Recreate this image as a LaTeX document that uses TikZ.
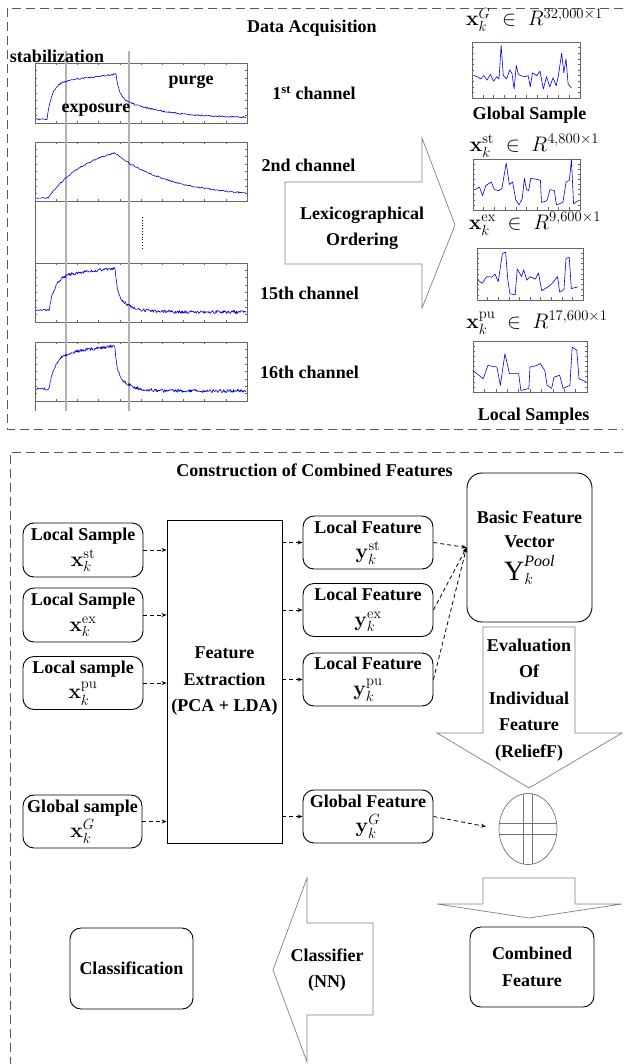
\documentclass[tikz,border=0pt]{standalone}
\usepackage{fix-cm}
\usepackage{amsmath}
\usepackage[no-math]{fontspec}
\setmainfont{Liberation Serif}
\usetikzlibrary{arrows.meta,shapes.geometric}
\newcommand{\pfr}[2]{%
  \draw[frame] (35,#1) rectangle (247,#2);
  \foreach \i in {1,...,9} \draw[frame] ({35+\i*21.2},#2) -- ++(0,-2) ({35+\i*21.2},#1) -- ++(0,2);
  \foreach \j in {1,...,7} \draw[frame] (35,{#1+\j*(#2-#1)/8}) -- ++(2,0) (247,{#1+\j*(#2-#1)/8}) -- ++(-2,0);
}
\newcommand{\sfr}{%
  \draw[frame] (0,0) rectangle (1,1);
  \foreach \t in {0.1,0.2,...,0.91} \draw[frame] (\t,1) -- (\t,0.95) (0,\t) -- (0.02,\t) (1,\t) -- (0.98,\t);
}
\newcommand{\bm}[1]{{\fontsize{21}{22}\selectfont$#1$}}
\tikzset{
  lbl/.style={font=\fontsize{18}{26.5}\selectfont\bfseries, align=center, inner sep=0pt},
  mth/.style={font=\fontsize{21}{24}\selectfont, inner sep=0pt},
  rbox/.style={lbl, draw, line width=0.9pt, rounded corners=11pt},
  frame/.style={draw=black!60, line width=0.5pt},
  sig/.style={draw=blue!90!black, line width=0.6pt, line join=round},
  marker/.style={draw=black!30, line width=1.3pt},
  barrow/.style={draw=black!50, line width=0.7pt, line join=miter},
  darr/.style={dash pattern=on 4pt off 3pt, line width=0.8pt, -{Stealth[length=5pt,width=4pt]}},
  region/.style={draw=black!65, line width=0.9pt, dash pattern=on 9pt off 5pt},
}
\begin{document}
\begin{tikzpicture}[x=1pt,y=-1pt]
\useasboundingbox (0,0) rectangle (623,1064);
\pgfmathsetseed{7}
% ---------- region boxes
\draw[region] (623,8) -- (7,8) -- (7,429) -- (623,429);
\draw[region] (623,452) -- (10,452) -- (10,1064);
% ---------- channel plots
\pfr{63}{123}
\pfr{142}{201}
\pfr{263}{322}
\pfr{342}{401}
\draw[frame] (35,201) -- (35,263) (35,401) -- (35,411);
\draw[marker] (66,51) -- (66,411);
\draw[marker] (129,51) -- (129,411);
\draw[dotted, line width=0.8pt] (142,217) -- (142,248);
\draw[sig] plot[domain=36:47,samples=15] (\x,{119+0.6*rand})
  -- plot[domain=47:115,samples=90] (\x,{119-36*(1-exp(-(\x-47)/5))-0.13*(\x-47)+0.7*rand})
  -- plot[domain=116:246,samples=150] (\x,{118-22*exp(-(\x-116)/40)-22*exp(-(\x-116)/3)+0.7*rand});
\draw[sig] plot[domain=36:48,samples=12] (\x,{198+0.6*rand})
  -- plot[domain=48:115,samples=80] (\x,{198-45*(1-exp(-(\x-48)/40))/0.8127+0.7*rand})
  -- plot[domain=115:246,samples=140] (\x,{197-44*exp(-(\x-115)/55)+0.7*rand});
\draw[sig] plot[domain=36:49,samples=15] (\x,{310+1.2*rand})
  -- plot[domain=49:114,samples=110] (\x,{310-34*(1-exp(-(\x-49)/6))-0.12*(\x-49)+1.5*rand})
  -- plot[domain=115:246,samples=220] (\x,{312-20*exp(-(\x-115)/12)-24*exp(-(\x-115)/2)+1.6*rand});
\draw[sig] plot[domain=36:49,samples=15] (\x,{389+1.2*rand})
  -- plot[domain=49:114,samples=110] (\x,{389-34*(1-exp(-(\x-49)/6))-0.14*(\x-49)+1.5*rand})
  -- plot[domain=115:246,samples=220] (\x,{391-20*exp(-(\x-115)/12)-24*exp(-(\x-115)/2)+1.6*rand});
% ---------- top labels
\node[lbl] (title1) at (312,28) {Data Acquisition};
\node[lbl] (stab) at (57,56) {stabilization};
\node[lbl] (expo) at (96,110) {exposure};
\node[lbl] (purge) at (191,82) {purge};
\node[lbl] (ch1) at (314,93) {1\textsuperscript{st} channel};
\node[lbl] (ch2) at (308.5,165) {2nd channel};
\node[lbl] (ch15) at (309.5,293) {15th channel};
\node[lbl] (ch16) at (309.5,372) {16th channel};
% ---------- lexicographical arrow
\draw[barrow] (285,182) -- (422,182) -- (422,138) -- (455,225) -- (422,308) -- (422,264) -- (285,264) -- cycle;
\node[lbl] (lex) at (362,228) {Lexicographical\\Ordering};
% ---------- right samples
\node[mth] (xg) at (534.5,20) {$\mathbf{x}_k^{G}\;\in\;R^{32{,}000\times1}$};
\begin{scope}[shift={(472,42)}, x=108pt, y=-56pt]
  \sfr
  \draw[sig] plot coordinates {(0.02,0.6) (0.05,0.62) (0.08,0.66) (0.11,0.6) (0.14,0.68) (0.17,0.58) (0.2,0.7) (0.23,0.62) (0.25,0.66) (0.27,0.06) (0.29,0.6) (0.32,0.66) (0.35,0.5) (0.37,0.56) (0.39,0.84) (0.41,0.42) (0.43,0.58) (0.45,0.6) (0.49,0.62) (0.52,0.6) (0.54,0.8) (0.56,0.55) (0.6,0.6) (0.63,0.52) (0.66,0.84) (0.69,0.62) (0.72,0.8) (0.75,0.64) (0.78,0.78) (0.8,0.6) (0.83,0.2) (0.85,0.55) (0.87,0.3) (0.89,0.75) (0.92,0.82)};
\end{scope}
\node[lbl] (gs) at (529.5,115) {Global Sample};
\node[mth] (xst) at (534.5,146) {$\mathbf{x}_k^{\mathrm{st}}\;\in\;R^{4{,}800\times1}$};
\begin{scope}[shift={(473,159)}, x=107pt, y=-51pt]
  \sfr
  \draw[sig] plot coordinates {(0.02,0.6) (0.06,0.55) (0.09,0.72) (0.12,0.52) (0.17,0.45) (0.2,0.6) (0.24,0.62) (0.27,0.58) (0.31,0.08) (0.34,0.5) (0.37,0.45) (0.4,0.8) (0.43,0.9) (0.46,0.78) (0.48,0.38) (0.5,0.6) (0.52,0.62) (0.54,0.38) (0.6,0.4) (0.63,0.42) (0.64,0.85) (0.69,0.82) (0.72,0.6) (0.76,0.62) (0.78,0.9) (0.84,0.85) (0.87,0.45) (0.9,0.42) (0.92,0.02) (0.94,0.88) (0.98,0.82)};
\end{scope}
\node[mth] (xex) at (535,224) {$\mathbf{x}_k^{\mathrm{ex}}\;\in\;R^{9{,}600\times1}$};
\begin{scope}[shift={(477,248)}, x=106pt, y=-52pt]
  \sfr
  \draw[sig] plot coordinates {(0.01,0.62) (0.05,0.68) (0.09,0.55) (0.14,0.56) (0.17,0.5) (0.2,0.65) (0.24,0.1) (0.27,0.08) (0.29,0.6) (0.31,0.88) (0.36,0.9) (0.38,0.4) (0.42,0.55) (0.44,0.42) (0.47,0.62) (0.5,0.55) (0.55,0.6) (0.58,0.48) (0.61,0.82) (0.66,0.76) (0.7,0.7) (0.74,0.6) (0.76,0.55) (0.78,0.85) (0.82,0.8) (0.84,0.2) (0.87,0.18) (0.89,0.78) (0.95,0.75)};
\end{scope}
\node[mth] (xpu) at (537,323) {$\mathbf{x}_k^{\mathrm{pu}}\;\in\;R^{17{,}600\times1}$};
\begin{scope}[shift={(473,341)}, x=114pt, y=-51pt]
  \sfr
  \draw[sig] plot coordinates {(0,0.58) (0.09,0.74) (0.13,0.48) (0.21,0.51) (0.24,0.87) (0.28,0.25) (0.32,0.64) (0.4,0.64) (0.42,0.97) (0.49,0.93) (0.5,0.51) (0.56,0.48) (0.59,0.44) (0.63,0.58) (0.65,0.87) (0.69,0.93) (0.71,0.71) (0.76,0.67) (0.79,0.93) (0.85,0.87) (0.87,0.12) (0.91,0.18) (0.93,0.74) (0.99,0.8)};
\end{scope}
\node[lbl] (lsm) at (533.5,416) {Local Samples};
% ---------- bottom section
\node[lbl] (title2) at (314.5,470) {Construction of Combined Features};
\node[rbox, minimum width=120pt, minimum height=54pt] (ls1) at (83,550) {Local Sample\\[-1pt]\bm{\mathbf{x}_k^{\mathrm{st}}}};
\node[rbox, minimum width=120pt, minimum height=54pt] (ls2) at (83,615) {Local Sample\\[-1pt]\bm{\mathbf{x}_k^{\mathrm{ex}}}};
\node[rbox, minimum width=120pt, minimum height=53pt] (ls3) at (83,683) {Local sample\\[-1pt]\bm{\mathbf{x}_k^{\mathrm{pu}}}};
\node[rbox, minimum width=119pt, minimum height=53pt] (gsm) at (82.5,821.5) {Global sample\\[-1pt]\bm{\mathbf{x}_k^{G}}};
\node[lbl, draw, line width=0.9pt, minimum width=115pt, minimum height=323pt] (fe) at (224.5,681.5) {Feature\\Extraction\\(PCA + LDA)};
\node[rbox, minimum width=130pt, minimum height=53pt] (lf1) at (368,542.5) {Local Feature\\[-1pt]\bm{\mathbf{y}_k^{\mathrm{st}}}};
\node[rbox, minimum width=130pt, minimum height=53pt] (lf2) at (368,610) {Local Feature\\[-1pt]\bm{\mathbf{y}_k^{\mathrm{ex}}}};
\node[rbox, minimum width=130pt, minimum height=53pt] (lf3) at (368,679.5) {Local Feature\\[-1pt]\bm{\mathbf{y}_k^{\mathrm{pu}}}};
\node[rbox, minimum width=130pt, minimum height=53pt] (gf) at (368,816.5) {Global Feature\\[-1pt]\bm{\mathbf{y}_k^{G}}};
\node[rbox, rounded corners=15pt, minimum width=125pt, minimum height=149pt] (bfv) at (529.5,547.5) {Basic Feature\\[-2pt]Vector\\[6pt]$\mbox{\fontsize{28}{30}\selectfont\mdseries Υ}^{\mbox{\fontsize{16}{18}\selectfont\mdseries\itshape Pool}}_{\mbox{\fontsize{16}{18}\selectfont$k$}}$};
% evaluation arrow
\draw[barrow] (483,627) -- (575,627) -- (575,733) -- (622,733) -- (529,788) -- (437,733) -- (483,733) -- cycle;
\node[lbl] (eval) at (529,700) {Evaluation\\Of\\Individual\\Feature\\(ReliefF)};
% summation
\node[draw=black!55, line width=0.7pt, ellipse, minimum width=58pt, minimum height=71pt, inner sep=0pt] (sum) at (528,829) {};
\begin{scope}
  \clip (528,829) ellipse [x radius=29pt, y radius=35.5pt];
  \draw[black!55, line width=0.7pt] (523.5,780) -- (523.5,880) (532.5,780) -- (532.5,880)
    (480,823.5) -- (580,823.5) (480,834.5) -- (580,834.5);
\end{scope}
% combined arrow
\draw[barrow] (483,878) -- (575,878) -- (575,904) -- (622,904) -- (529,918) -- (437,904) -- (483,904) -- cycle;
\node[rbox, minimum width=124pt, minimum height=80pt] (cf) at (532,967) {Combined\\Feature};
% classifier arrow
\draw[barrow] (373,923) -- (307,923) -- (307,878) -- (273,970) -- (307,1062) -- (307,1015) -- (373,1015) -- cycle;
\node[lbl] (clsf) at (327,970) {Classifier\\(NN)};
\node[rbox, minimum width=123pt, minimum height=81pt] (cls) at (131.5,968.5) {Classification};
% ---------- connectors
\foreach \n in {ls1,ls2,ls3,gsm} \draw[darr] (\n.east) -- (\n.east -| fe.west);
\foreach \n in {lf1,lf2,lf3,gf} \draw[darr] (\n.west -| fe.east) -- (\n.west);
\foreach \n in {lf1,lf2,lf3} \draw[darr] (\n.east) -- (bfv.west);
\draw[darr, shorten >=13pt] (gf.east) -- (sum.west);
\end{tikzpicture}
\end{document}
